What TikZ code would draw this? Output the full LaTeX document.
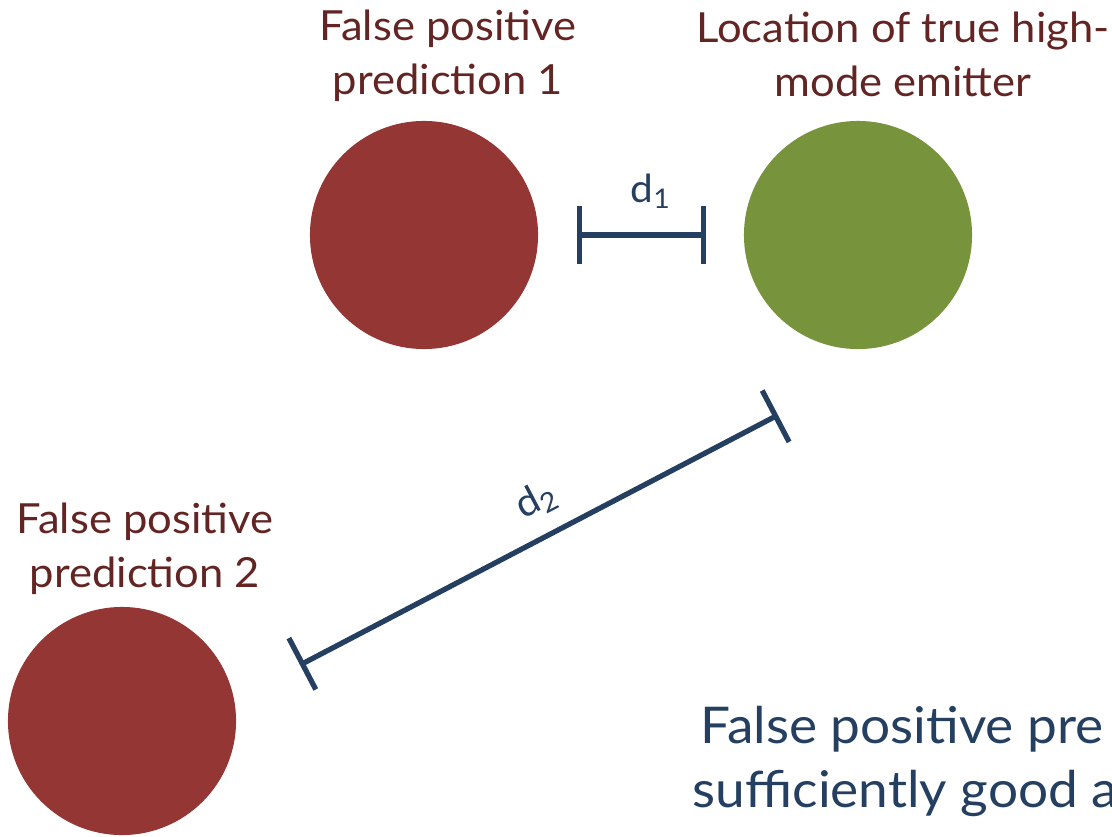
\documentclass[tikz,border=0pt]{standalone}
\usepackage{fontspec}
\setmainfont{Lato}[FakeStretch=1.05]
\usetikzlibrary{arrows.meta}
\definecolor{fpred}{HTML}{943634}
\definecolor{truegreen}{HTML}{77933C}
\definecolor{labred}{HTML}{632523}
\definecolor{lineblue}{HTML}{243F60}
\tikzset{
  dot/.style={circle, minimum size=2.28cm, inner sep=0pt},
  lab/.style={text=labred, align=center, inner sep=0pt, anchor=north,
    font=\fontsize{11.8}{15.3}\selectfont},
  dist/.style={draw=lineblue, line width=1.5pt,
    arrows={Bar[width=5.8mm]-Bar[width=5.8mm]}},
  dlab/.style={text=lineblue, inner sep=0pt, font=\fontsize{11}{13}\selectfont},
  note/.style={text=lineblue, inner sep=0pt, anchor=base west,
    font=\fontsize{14.4}{18}\selectfont}
}

\begin{document}
\begin{tikzpicture}[x=0.01cm, y=-0.01cm]
  \useasboundingbox (0,0) rectangle (1112,836);
  \clip (0,0) rectangle (1112,836);

  %%%%% circles %%%%%
  \node[dot, fill=fpred] (fp1) at (424,235) {};
  \node[dot, fill=truegreen] (emit) at (858,235) {};
  \node[dot, fill=fpred] (fp2) at (122,721) {};

  %%%%% labels %%%%%
  \node[lab] (fp1lab) at (448,9) {False positive\\prediction 1};
  \node[lab] (emitlab) at (903,11) {Location of true high-\\mode emitter};
  \node[lab] (fp2lab) at (145,502) {False positive\\prediction 2};

  %%%%% distances %%%%%
  \draw[dist, shorten <=0.38cm, shorten >=0.37cm] (fp1) -- (emit)
    node[dlab, midway, above=0.24cm, xshift=0.1cm] (d1) {d\textsubscript{1}};
  \coordinate (d2a) at (300,665);
  \coordinate (d2b) at (778,415);
  \draw[dist] (d2a) -- (d2b)
    node[dlab, pos=0.53, sloped, above=0.16cm] (d2) {d\textsubscript{2}};

  %%%%% note %%%%%
  \node[note] (note1) at (700,743) {False positive pre};
  \node[note] (note2) at (692,807) {sufficiently good a};
\end{tikzpicture}
\end{document}
